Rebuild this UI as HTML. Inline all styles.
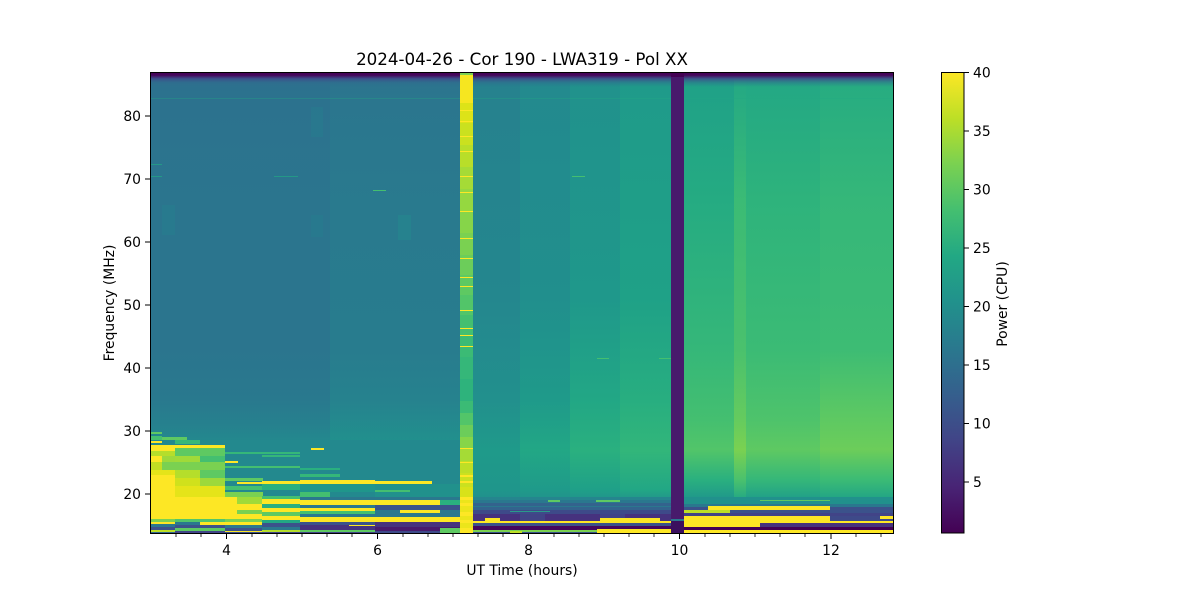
<!DOCTYPE html>
<html><head><meta charset="utf-8"><style>
html,body{margin:0;padding:0;background:#fff;}
svg{display:block;}
text{font-family:"DejaVu Sans","Liberation Sans",sans-serif;fill:#000;}
</style></head><body>
<svg width="1200" height="600" viewBox="0 0 1200 600" xmlns="http://www.w3.org/2000/svg">
<defs>
<clipPath id="pc"><rect x="150" y="72" width="744" height="462"/></clipPath>
<linearGradient id="gA1" gradientUnits="userSpaceOnUse" x1="0" y1="72" x2="0" y2="534">
<stop offset="0" stop-color="#2d708e"/><stop offset="0.06" stop-color="#2c728e"/><stop offset="0.28" stop-color="#2b758e"/><stop offset="0.60" stop-color="#2b758e"/><stop offset="0.71" stop-color="#29798e"/><stop offset="0.765" stop-color="#26818e"/><stop offset="0.80" stop-color="#23898e"/><stop offset="1" stop-color="#23898e"/></linearGradient>
<linearGradient id="gA2" gradientUnits="userSpaceOnUse" x1="0" y1="72" x2="0" y2="534">
<stop offset="0" stop-color="#2c738e"/><stop offset="0.06" stop-color="#2b768e"/><stop offset="0.30" stop-color="#297a8e"/><stop offset="0.60" stop-color="#287c8e"/><stop offset="0.71" stop-color="#26828e"/><stop offset="0.80" stop-color="#21908d"/><stop offset="1" stop-color="#21908d"/></linearGradient>
<linearGradient id="gB1" gradientUnits="userSpaceOnUse" x1="0" y1="72" x2="0" y2="534">
<stop offset="0" stop-color="#26818e"/><stop offset="0.49" stop-color="#24878e"/><stop offset="0.71" stop-color="#22908d"/><stop offset="0.82" stop-color="#1f9a8a"/><stop offset="0.905" stop-color="#1f968b"/><stop offset="0.93" stop-color="#218e8d"/><stop offset="1" stop-color="#218e8d"/></linearGradient>
<linearGradient id="gB2" gradientUnits="userSpaceOnUse" x1="0" y1="72" x2="0" y2="534">
<stop offset="0" stop-color="#23898e"/><stop offset="0.49" stop-color="#218f8d"/><stop offset="0.71" stop-color="#1f9a8a"/><stop offset="0.82" stop-color="#22a785"/><stop offset="0.905" stop-color="#1f9a8a"/><stop offset="0.93" stop-color="#21918c"/><stop offset="1" stop-color="#21918c"/></linearGradient>
<linearGradient id="gB3" gradientUnits="userSpaceOnUse" x1="0" y1="72" x2="0" y2="534">
<stop offset="0" stop-color="#21918c"/><stop offset="0.49" stop-color="#1f988b"/><stop offset="0.71" stop-color="#22a785"/><stop offset="0.82" stop-color="#2ab07f"/><stop offset="0.905" stop-color="#1fa088"/><stop offset="0.93" stop-color="#21918c"/><stop offset="1" stop-color="#21918c"/></linearGradient>
<linearGradient id="gB4" gradientUnits="userSpaceOnUse" x1="0" y1="72" x2="0" y2="534">
<stop offset="0" stop-color="#1f9a8a"/><stop offset="0.49" stop-color="#1fa187"/><stop offset="0.71" stop-color="#28ae80"/><stop offset="0.82" stop-color="#32b67a"/><stop offset="0.905" stop-color="#22a785"/><stop offset="0.93" stop-color="#21918c"/><stop offset="1" stop-color="#21918c"/></linearGradient>
<linearGradient id="gC1" gradientUnits="userSpaceOnUse" x1="0" y1="72" x2="0" y2="534">
<stop offset="0" stop-color="#1fa088"/><stop offset="0.277" stop-color="#25ab82"/><stop offset="0.60" stop-color="#35b779"/><stop offset="0.753" stop-color="#44bf70"/><stop offset="0.818" stop-color="#52c569"/><stop offset="0.883" stop-color="#2ab07f"/><stop offset="0.926" stop-color="#1f968b"/><stop offset="1" stop-color="#1f968b"/></linearGradient>
<linearGradient id="gCL" gradientUnits="userSpaceOnUse" x1="0" y1="72" x2="0" y2="534">
<stop offset="0" stop-color="#22a785"/><stop offset="0.277" stop-color="#3bbb75"/><stop offset="0.60" stop-color="#4ac16d"/><stop offset="0.753" stop-color="#65cb5e"/><stop offset="0.818" stop-color="#7ad151"/><stop offset="0.883" stop-color="#4ac16d"/><stop offset="0.926" stop-color="#22a884"/><stop offset="1" stop-color="#22a884"/></linearGradient>
<linearGradient id="gC2" gradientUnits="userSpaceOnUse" x1="0" y1="72" x2="0" y2="534">
<stop offset="0" stop-color="#22a785"/><stop offset="0.277" stop-color="#2eb37c"/><stop offset="0.60" stop-color="#3bbb75"/><stop offset="0.753" stop-color="#4ec36b"/><stop offset="0.818" stop-color="#5ec962"/><stop offset="0.883" stop-color="#35b779"/><stop offset="0.926" stop-color="#1f9e89"/><stop offset="1" stop-color="#1f9e89"/></linearGradient>
<linearGradient id="gC3" gradientUnits="userSpaceOnUse" x1="0" y1="72" x2="0" y2="534">
<stop offset="0" stop-color="#25ab82"/><stop offset="0.277" stop-color="#35b779"/><stop offset="0.60" stop-color="#3dbc74"/><stop offset="0.753" stop-color="#5ec962"/><stop offset="0.818" stop-color="#6ccd5a"/><stop offset="0.883" stop-color="#3bbb75"/><stop offset="0.926" stop-color="#20a386"/><stop offset="1" stop-color="#20a386"/></linearGradient>
<linearGradient id="gTop" gradientUnits="userSpaceOnUse" x1="0" y1="72" x2="0" y2="87">
<stop offset="0" stop-color="#440154" stop-opacity="1"/><stop offset="0.22" stop-color="#46085c" stop-opacity="1"/><stop offset="0.45" stop-color="#3e4a89" stop-opacity="0.85"/><stop offset="0.72" stop-color="#31688e" stop-opacity="0.45"/><stop offset="1" stop-color="#2d708e" stop-opacity="0"/></linearGradient>
<linearGradient id="gCB" gradientUnits="userSpaceOnUse" x1="0" y1="72" x2="0" y2="533">
<stop offset="0" stop-color="#fde725"/><stop offset="0.1" stop-color="#bddf26"/><stop offset="0.2" stop-color="#7ad151"/><stop offset="0.3" stop-color="#44bf70"/><stop offset="0.4" stop-color="#22a884"/><stop offset="0.5" stop-color="#21918c"/><stop offset="0.6" stop-color="#2a788e"/><stop offset="0.7" stop-color="#355f8d"/><stop offset="0.8" stop-color="#414487"/><stop offset="0.9" stop-color="#482475"/><stop offset="1" stop-color="#440154"/></linearGradient>
</defs>

<g clip-path="url(#pc)">
<!-- background regions -->
<rect x="150" y="72" width="181" height="462" fill="url(#gA1)"/>
<rect x="330" y="72" width="131" height="462" fill="url(#gA2)"/>
<rect x="473" y="72" width="48" height="462" fill="url(#gB1)"/>
<rect x="520" y="72" width="51" height="462" fill="url(#gB2)"/>
<rect x="570" y="72" width="51" height="462" fill="url(#gB3)"/>
<rect x="620" y="72" width="52" height="462" fill="url(#gB4)"/>
<rect x="684" y="72" width="51" height="462" fill="url(#gC1)"/>
<rect x="746" y="72" width="75" height="462" fill="url(#gC2)"/>
<rect x="820" y="72" width="74" height="462" fill="url(#gC3)"/>
<rect x="734" y="72" width="12" height="462" fill="url(#gCL)"/>
<!-- subtle patches -->
<rect x="162" y="205" width="13" height="30" fill="#26808e" opacity="0.5"/>
<rect x="311" y="107" width="12" height="30" fill="#26808e" opacity="0.4"/>
<rect x="311" y="215" width="12" height="22" fill="#26808e" opacity="0.4"/>
<rect x="398" y="215" width="13" height="25" fill="#23898e" opacity="0.5"/>
<rect x="150" y="164" width="12" height="1" fill="#22a884" opacity="0.7"/>
<rect x="150" y="176" width="12" height="1" fill="#22a884" opacity="0.7"/>
<rect x="274" y="176" width="24" height="1" fill="#22a884" opacity="0.7"/>
<rect x="373" y="190" width="13" height="1" fill="#44bf70"/>
<rect x="597" y="358" width="12" height="1" fill="#44bf70"/>
<rect x="659" y="358" width="12" height="1" fill="#44bf70"/>
<rect x="572" y="176" width="13" height="1" fill="#44bf70"/>
<rect x="150" y="98" width="744" height="1" fill="#22a884" opacity="0.35"/>
<rect x="150" y="72" width="744" height="15" fill="url(#gTop)"/>

<!-- bottom-left messy region -->
<rect x="150" y="440" width="310" height="94" fill="#23898e"/>
<rect x="150" y="432" width="12" height="2" fill="#5ec962"/>
<rect x="150" y="436" width="12" height="4" fill="#44bf70"/>
<rect x="150" y="441" width="12" height="2" fill="#fde725"/>
<rect x="162" y="437" width="25" height="3" fill="#5ec962"/>
<rect x="150" y="445" width="25" height="6" fill="#fde725"/>
<rect x="150" y="451" width="25" height="5" fill="#b5de2b"/>
<rect x="150" y="456" width="12" height="6" fill="#fde725"/>
<rect x="162" y="456" width="13" height="6" fill="#9dd93b"/>
<rect x="150" y="462" width="12" height="8" fill="#c2df23"/>
<rect x="162" y="462" width="13" height="8" fill="#7ad151"/>
<rect x="150" y="470" width="25" height="5" fill="#e5e419"/>
<rect x="150" y="475" width="25" height="44" fill="#fde725"/>
<rect x="150" y="519" width="25" height="3" fill="#7ad151"/>
<rect x="150" y="522" width="25" height="2" fill="#fde725"/>
<rect x="150" y="524" width="25" height="3" fill="#2a788e"/>
<rect x="150" y="527" width="25" height="3" fill="#3b528b"/>
<rect x="150" y="530" width="25" height="2" fill="#bddf26"/>
<rect x="150" y="532" width="25" height="2" fill="#31688e"/>

<rect x="175" y="440" width="25" height="4" fill="#35b779"/>
<rect x="175" y="445" width="50" height="3" fill="#fde725"/>
<rect x="175" y="448" width="50" height="8" fill="#5ec962"/>
<rect x="175" y="456" width="25" height="6" fill="#a0da39"/>
<rect x="200" y="456" width="25" height="6" fill="#44bf70"/>
<rect x="175" y="462" width="50" height="8" fill="#7ad151"/>
<rect x="175" y="470" width="25" height="8" fill="#b5de2b"/>
<rect x="200" y="470" width="25" height="8" fill="#5ec962"/>
<rect x="175" y="478" width="25" height="8" fill="#d0e11c"/>
<rect x="200" y="478" width="25" height="8" fill="#9dd93b"/>
<rect x="175" y="486" width="50" height="11" fill="#e5e419"/>
<rect x="175" y="497" width="50" height="22" fill="#fde725"/>
<rect x="175" y="519" width="50" height="3" fill="#52c569"/>
<rect x="175" y="522" width="25" height="3" fill="#2a788e"/>
<rect x="200" y="522" width="25" height="3" fill="#fde725"/>
<rect x="175" y="525" width="50" height="3" fill="#3b528b"/>
<rect x="175" y="528" width="50" height="3" fill="#5ec962"/>
<rect x="175" y="531" width="50" height="3" fill="#414487"/>

<rect x="225" y="452" width="75" height="2" fill="#35b779"/>
<rect x="225" y="461" width="13" height="2" fill="#fde725"/>
<rect x="225" y="466" width="75" height="2" fill="#44bf70"/>
<rect x="225" y="478" width="38" height="3" fill="#5ec962"/>
<rect x="237" y="482" width="26" height="2" fill="#fde725"/>
<rect x="225" y="486" width="38" height="4" fill="#44bf70"/>
<rect x="225" y="492" width="38" height="5" fill="#7ad151"/>
<rect x="225" y="497" width="13" height="22" fill="#fde725"/>
<rect x="237" y="497" width="26" height="7" fill="#a0da39"/>
<rect x="237" y="504" width="26" height="6" fill="#fde725"/>
<rect x="237" y="510" width="26" height="4" fill="#7ad151"/>
<rect x="237" y="514" width="26" height="5" fill="#fde725"/>
<rect x="225" y="519" width="38" height="3" fill="#7ad151"/>
<rect x="225" y="522" width="38" height="3" fill="#fde725"/>
<rect x="225" y="525" width="38" height="3" fill="#2a788e"/>
<rect x="225" y="528" width="38" height="6" fill="#3b528b"/>
<rect x="225" y="531" width="38" height="1" fill="#fde725"/>

<rect x="262" y="455" width="38" height="2" fill="#35b779"/>
<rect x="262" y="481" width="38" height="3" fill="#fde725"/>
<rect x="262" y="484" width="38" height="6" fill="#2ab07f"/>
<rect x="262" y="496" width="38" height="3" fill="#44bf70"/>
<rect x="262" y="499" width="38" height="5" fill="#fde725"/>
<rect x="262" y="504" width="38" height="4" fill="#2ab07f"/>
<rect x="262" y="508" width="38" height="4" fill="#fde725"/>
<rect x="262" y="512" width="38" height="4" fill="#5ec962"/>
<rect x="262" y="516" width="38" height="4" fill="#fde725"/>
<rect x="262" y="520" width="38" height="3" fill="#22a884"/>
<rect x="262" y="523" width="38" height="4" fill="#3b528b"/>
<rect x="262" y="527" width="38" height="3" fill="#2a788e"/>
<rect x="262" y="530" width="38" height="2" fill="#b5de2b"/>
<rect x="262" y="532" width="38" height="2" fill="#414487"/>

<rect x="311" y="448" width="13" height="2" fill="#fde725"/>
<rect x="300" y="468" width="40" height="2" fill="#2ab07f"/>
<rect x="300" y="474" width="40" height="3" fill="#35b779"/>
<rect x="300" y="480" width="75" height="4" fill="#fde725"/>
<rect x="300" y="484" width="75" height="8" fill="#1f968b"/>
<rect x="300" y="492" width="30" height="5" fill="#44bf70"/>
<rect x="300" y="497" width="75" height="3" fill="#2a788e"/>
<rect x="300" y="500" width="75" height="5" fill="#fde725"/>
<rect x="300" y="505" width="75" height="3" fill="#2a788e"/>
<rect x="300" y="508" width="75" height="3" fill="#fde725"/>
<rect x="300" y="511" width="75" height="3" fill="#44bf70"/>
<rect x="300" y="514" width="75" height="3" fill="#2a788e"/>
<rect x="300" y="517" width="75" height="5" fill="#fde725"/>
<rect x="300" y="522" width="75" height="3" fill="#3b528b"/>
<rect x="300" y="525" width="75" height="2" fill="#46327e"/>
<rect x="349" y="525" width="41" height="1" fill="#fde725"/>
<rect x="300" y="527" width="75" height="3" fill="#46327e"/>
<rect x="300" y="530" width="75" height="2" fill="#5ec962"/>
<rect x="300" y="532" width="75" height="2" fill="#414487"/>

<rect x="375" y="481" width="57" height="3" fill="#fde725"/>
<rect x="375" y="484" width="85" height="13" fill="#21918c"/>
<rect x="375" y="490" width="35" height="2" fill="#44bf70"/>
<rect x="375" y="497" width="85" height="3" fill="#2a788e"/>
<rect x="375" y="500" width="85" height="5" fill="#2ab07f"/>
<rect x="375" y="500" width="65" height="5" fill="#fde725"/>
<rect x="375" y="505" width="85" height="5" fill="#3b528b"/>
<rect x="375" y="510" width="85" height="3" fill="#2a788e"/>
<rect x="400" y="510" width="40" height="3" fill="#fde725"/>
<rect x="375" y="513" width="85" height="4" fill="#2a788e"/>
<rect x="375" y="517" width="85" height="5" fill="#fde725"/>
<rect x="375" y="522" width="85" height="5" fill="#46327e"/>
<rect x="375" y="527" width="85" height="4" fill="#481a6c"/>
<rect x="375" y="531" width="85" height="3" fill="#3e4a89"/>
<rect x="440" y="528" width="20" height="6" fill="#5ec962"/>

<!-- bottom-middle -->
<rect x="473" y="497" width="198" height="3" fill="#25858e"/>
<rect x="473" y="500" width="198" height="3" fill="#2a788e"/>
<rect x="548" y="500" width="12" height="2" fill="#5ec962"/>
<rect x="596" y="500" width="24" height="2" fill="#5ec962"/>
<rect x="473" y="503" width="198" height="7" fill="#33638d"/>
<rect x="473" y="506" width="198" height="1" fill="#2a788e"/>
<rect x="473" y="510" width="198" height="4" fill="#3e4a89"/>
<rect x="510" y="511" width="40" height="1" fill="#2a9a8a"/>
<rect x="473" y="514" width="198" height="7" fill="#46327e"/>
<rect x="520" y="514" width="25" height="7" fill="#414487"/>
<rect x="600" y="514" width="25" height="7" fill="#414487"/>
<rect x="473" y="521" width="198" height="2" fill="#fde725"/>
<rect x="485" y="518" width="15" height="5" fill="#fde725"/>
<rect x="600" y="518" width="60" height="4" fill="#fde725"/>
<rect x="473" y="523" width="198" height="3" fill="#3b528b"/>
<rect x="473" y="526" width="198" height="4" fill="#46085c"/>
<rect x="473" y="530" width="198" height="2" fill="#7ad151"/>
<rect x="597" y="529" width="74" height="5" fill="#fde725"/>
<rect x="473" y="532" width="124" height="2" fill="#3b528b"/>
<rect x="510" y="531" width="12" height="3" fill="#bddf26"/>

<!-- bottom-right -->
<rect x="684" y="497" width="210" height="7" fill="#21918c"/>
<rect x="760" y="500" width="70" height="1" fill="#5ec962"/>
<rect x="684" y="504" width="210" height="3" fill="#2a788e"/>
<rect x="684" y="507" width="210" height="3" fill="#3b528b"/>
<rect x="708" y="506" width="122" height="4" fill="#fde725"/>
<rect x="684" y="510" width="210" height="3" fill="#3b528b"/>
<rect x="684" y="510" width="46" height="3" fill="#bddf26"/>
<rect x="684" y="513" width="210" height="3" fill="#414487"/>
<rect x="684" y="516" width="210" height="5" fill="#3e4a89"/>
<rect x="684" y="516" width="146" height="5" fill="#fde725"/>
<rect x="880" y="516" width="14" height="3" fill="#fde725"/>
<rect x="684" y="521" width="210" height="2" fill="#fde725"/>
<rect x="684" y="523" width="210" height="4" fill="#46327e"/>
<rect x="684" y="523" width="76" height="4" fill="#fde725"/>
<rect x="684" y="527" width="210" height="3" fill="#440154"/>
<rect x="684" y="530" width="210" height="4" fill="#fde725"/>

<!-- yellow band (solid segments) -->
<g>
<rect x="460" y="72" width="13" height="3" fill="#7ad151"/>
<rect x="460" y="75" width="13" height="28" fill="#f6e620"/>
<rect x="460" y="103" width="13" height="20" fill="#dde318"/>
<rect x="460" y="123" width="13" height="22" fill="#cae11f"/>
<rect x="460" y="145" width="13" height="22" fill="#b8de29"/>
<rect x="460" y="167" width="13" height="22" fill="#a5db36"/>
<rect x="460" y="189" width="13" height="22" fill="#95d840"/>
<rect x="460" y="211" width="13" height="22" fill="#86d549"/>
<rect x="460" y="233" width="13" height="22" fill="#7ad151"/>
<rect x="460" y="255" width="13" height="20" fill="#6ccd5a"/>
<rect x="460" y="275" width="13" height="20" fill="#5ec962"/>
<rect x="460" y="295" width="13" height="20" fill="#52c569"/>
<rect x="460" y="315" width="13" height="20" fill="#44bf70"/>
<rect x="460" y="335" width="13" height="22" fill="#3bbb75"/>
<rect x="460" y="357" width="13" height="22" fill="#35b779"/>
<rect x="460" y="379" width="13" height="22" fill="#2eb37c"/>
<rect x="460" y="401" width="13" height="12" fill="#3bbb75"/>
<rect x="460" y="413" width="13" height="12" fill="#52c569"/>
<rect x="460" y="425" width="13" height="12" fill="#6ccd5a"/>
<rect x="460" y="437" width="13" height="12" fill="#86d549"/>
<rect x="460" y="449" width="13" height="12" fill="#a5db36"/>
<rect x="460" y="461" width="13" height="12" fill="#bddf26"/>
<rect x="460" y="473" width="13" height="14" fill="#cae11f"/>
<rect x="460" y="487" width="13" height="13" fill="#d8e219"/>
<rect x="460" y="500" width="13" height="34" fill="#ece51b"/>
</g>
<g fill="#fde725">
<rect x="460" y="110" width="13" height="1"/><rect x="460" y="121" width="13" height="1"/><rect x="460" y="136" width="13" height="1"/>
<rect x="460" y="151" width="13" height="1"/><rect x="460" y="176" width="13" height="1"/><rect x="460" y="192" width="13" height="1"/>
<rect x="460" y="211" width="13" height="1"/><rect x="460" y="238" width="13" height="1"/><rect x="460" y="258" width="13" height="1"/>
<rect x="460" y="277" width="13" height="1"/><rect x="460" y="286" width="13" height="1"/><rect x="460" y="310" width="13" height="1"/>
<rect x="460" y="328" width="13" height="1"/><rect x="460" y="335" width="13" height="1"/><rect x="460" y="346" width="13" height="1"/>
<rect x="460" y="448" width="13" height="1"/><rect x="460" y="462" width="13" height="1"/><rect x="460" y="475" width="13" height="2"/>
<rect x="460" y="481" width="13" height="2"/><rect x="460" y="497" width="13" height="3"/><rect x="460" y="503" width="13" height="3"/>
<rect x="460" y="512" width="13" height="4"/><rect x="460" y="520" width="13" height="3"/><rect x="460" y="528" width="13" height="6"/>
</g>

<!-- dark stripe -->
<rect x="671" y="72" width="13" height="462" fill="#481a6c"/>
<rect x="671" y="72" width="13" height="5" fill="#440154"/>
<rect x="671" y="519" width="13" height="2" fill="#2a788e"/>
<rect x="671" y="521" width="13" height="13" fill="#3b0f5e"/>
</g>

<!-- axes frame -->
<rect x="150.5" y="72.5" width="743" height="461" fill="none" stroke="#000" stroke-width="1"/>

<!-- y ticks -->
<g stroke="#000" stroke-width="1">
<line x1="145" y1="116" x2="150" y2="116"/><line x1="145" y1="179" x2="150" y2="179"/><line x1="145" y1="242" x2="150" y2="242"/>
<line x1="145" y1="305" x2="150" y2="305"/><line x1="145" y1="368" x2="150" y2="368"/><line x1="145" y1="431" x2="150" y2="431"/>
<line x1="145" y1="494" x2="150" y2="494"/>
</g>
<g font-size="13.9" text-anchor="end">
<text x="141" y="121">80</text><text x="141" y="184">70</text><text x="141" y="247">60</text><text x="141" y="310">50</text>
<text x="141" y="373">40</text><text x="141" y="436">30</text><text x="141" y="499">20</text>
</g>

<!-- x ticks -->
<g stroke="#000" stroke-width="1">
<line x1="226.5" y1="534" x2="226.5" y2="539"/><line x1="377.5" y1="534" x2="377.5" y2="539"/><line x1="528.5" y1="534" x2="528.5" y2="539"/>
<line x1="679.5" y1="534" x2="679.5" y2="539"/><line x1="831" y1="534" x2="831" y2="539"/>
</g>
<g stroke="#000" stroke-width="0.8">
<line x1="176" y1="534" x2="176" y2="537"/><line x1="201" y1="534" x2="201" y2="537"/>
<line x1="252" y1="534" x2="252" y2="537"/><line x1="277" y1="534" x2="277" y2="537"/><line x1="302" y1="534" x2="302" y2="537"/><line x1="327" y1="534" x2="327" y2="537"/><line x1="352" y1="534" x2="352" y2="537"/>
<line x1="403" y1="534" x2="403" y2="537"/><line x1="428" y1="534" x2="428" y2="537"/><line x1="453" y1="534" x2="453" y2="537"/><line x1="478" y1="534" x2="478" y2="537"/><line x1="503" y1="534" x2="503" y2="537"/>
<line x1="554" y1="534" x2="554" y2="537"/><line x1="579" y1="534" x2="579" y2="537"/><line x1="604" y1="534" x2="604" y2="537"/><line x1="629" y1="534" x2="629" y2="537"/><line x1="654" y1="534" x2="654" y2="537"/>
<line x1="705" y1="534" x2="705" y2="537"/><line x1="730" y1="534" x2="730" y2="537"/><line x1="755" y1="534" x2="755" y2="537"/><line x1="780" y1="534" x2="780" y2="537"/><line x1="805" y1="534" x2="805" y2="537"/>
<line x1="856" y1="534" x2="856" y2="537"/><line x1="881" y1="534" x2="881" y2="537"/>
</g>
<g font-size="13.9" text-anchor="middle">
<text x="226.5" y="555">4</text><text x="377.5" y="555">6</text><text x="528.5" y="555">8</text><text x="679.5" y="555">10</text><text x="831" y="555">12</text>
</g>

<!-- labels -->
<text x="522" y="65" font-size="16.7" text-anchor="middle">2024-04-26 - Cor 190 - LWA319 - Pol XX</text>
<text x="522" y="575" font-size="13.9" text-anchor="middle">UT Time (hours)</text>
<text transform="translate(114,303) rotate(-90)" font-size="13.9" text-anchor="middle">Frequency (MHz)</text>

<!-- colorbar -->
<rect x="941.5" y="72.5" width="22.5" height="460.5" fill="url(#gCB)" stroke="#000" stroke-width="1"/>
<g stroke="#000" stroke-width="1">
<line x1="964" y1="72.5" x2="969" y2="72.5"/><line x1="964" y1="131" x2="969" y2="131"/><line x1="964" y1="189.5" x2="969" y2="189.5"/>
<line x1="964" y1="248" x2="969" y2="248"/><line x1="964" y1="306.5" x2="969" y2="306.5"/><line x1="964" y1="365" x2="969" y2="365"/>
<line x1="964" y1="423.5" x2="969" y2="423.5"/><line x1="964" y1="482" x2="969" y2="482"/>
</g>
<g font-size="13.9">
<text x="973" y="77.5">40</text><text x="973" y="136">35</text><text x="973" y="194.5">30</text><text x="973" y="253">25</text>
<text x="973" y="311.5">20</text><text x="973" y="370">15</text><text x="973" y="428.5">10</text><text x="973" y="487">5</text>
</g>
<text transform="translate(1007,304) rotate(-90)" font-size="13.9" text-anchor="middle">Power (CPU)</text>
</svg>
</body></html>
